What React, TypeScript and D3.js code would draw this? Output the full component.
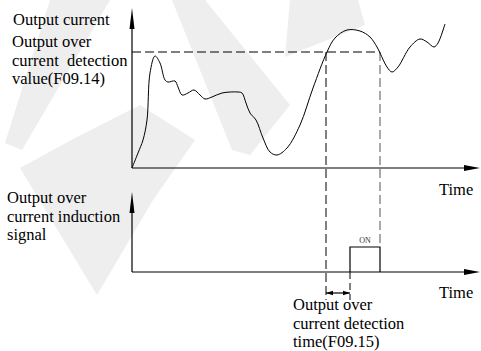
import React from "react";
import * as d3 from "d3";

// ---- data (time units from origin, current units above baseline) ----
const curveTime = [0, 6, 11, 15, 18, 23, 28, 33, 36, 43, 46, 50, 56, 62, 68, 73, 80, 90, 106, 110, 114, 118, 124, 131, 138, 145, 155, 168, 181, 195, 203, 215, 228, 238, 245, 248, 255, 260, 266, 278, 288, 295, 302, 306, 313];
const curveValue = [0, 15, 28, 48, 95, 112, 105, 88, 86, 87, 81, 73, 75, 78, 73, 69, 71, 75, 76, 75, 65, 55, 48, 30, 16, 13, 20, 43, 80, 116, 130, 138, 137, 131, 121, 115, 101, 96, 101, 121, 129, 126, 121, 125, 144];
const thresholdValue = 116;
const detectStart = 194;
const signalOn = 218;
const signalOff = 248;
const signalLevel = 25;

const leftTopLabels = ["Output over", "current  detection", "value(F09.14)"];
const leftBottomLabels = ["Output over", "current induction", "signal"];
const bottomLabels = ["Output over", "current detection", "time(F09.15)"];

export default function App() {
  const W = 481, H = 351;
  const x = d3.scaleLinear().domain([0, 348]).range([132, 480]);
  const yTop = d3.scaleLinear().domain([0, 160]).range([168, 8]);
  const yBot = d3.scaleLinear().domain([0, 80]).range([272, 192]);

  const pts = curveTime.map((t, i) => [t, curveValue[i]] as [number, number]);
  const line = d3
    .line<[number, number]>()
    .x((d) => x(d[0]))
    .y((d) => yTop(d[1]))
    .curve(d3.curveCatmullRom.alpha(0.5));

  const font = "Liberation Serif, Times New Roman, serif";
  const fs = 16.5;
  const dash = "9,4";
  const x0 = x(0);
  const xEnd = x(348);
  const base1 = yTop(0);
  const base2 = yBot(0);
  const thrY = yTop(thresholdValue);
  const xDet = x(detectStart);
  const xOn = x(signalOn);
  const xOff = x(signalOff);
  const yOn = yBot(signalLevel);
  const dimY = 293;

  const wm = "#eeeeee";
  const textStyle: React.CSSProperties = { fontFamily: font, fontSize: fs, whiteSpace: "pre" };

  return (
    <svg width={W} height={H} style={{ position: "absolute", left: 0, top: 0 }}>
      <rect width={W} height={H} fill="#fff" />
      {/* watermark approximation */}
      <g fill={wm}>
        <polygon points="50,0 110,0 22,150 5,143" />
        <polygon points="97,295 20,168 75,138 140,105 195,140 153,200" />
        <polygon points="172,0 205,0 290,105 250,155 232,150" />
        <polygon points="290,0 358,0 365,25 285,57" />
      </g>

      {/* top axes */}
      <line x1={x0} y1={base1} x2={xEnd - 15} y2={base1} stroke="#000" strokeWidth={1.2} />
      <polygon points={`${xEnd},${base1} ${xEnd - 16},${base1 - 3} ${xEnd - 16},${base1 + 3}`} fill="#000" />
      <line x1={x0} y1={base1} x2={x0} y2={26} stroke="#000" strokeWidth={1.2} />
      <polygon points={`${x0},8 ${x0 - 2.5},29 ${x0 + 2.5},29`} fill="#000" />

      {/* threshold dashed */}
      <line x1={x0} y1={thrY} x2={xOff} y2={thrY} stroke="#000" strokeWidth={1} strokeDasharray={dash} />
      <line x1={xDet} y1={thrY} x2={xDet} y2={300} stroke="#000" strokeWidth={1} strokeDasharray={dash} />
      <line x1={xOff} y1={thrY} x2={xOff} y2={yOn} stroke="#555" strokeWidth={1} strokeDasharray={dash} />
      <line x1={xOn} y1={base2} x2={xOn} y2={300} stroke="#000" strokeWidth={1} strokeDasharray="7,4" />

      {/* current curve */}
      <path d={line(pts) || ""} fill="none" stroke="#000" strokeWidth={1} />

      {/* bottom axes */}
      <line x1={x0} y1={base2} x2={xEnd - 15} y2={base2} stroke="#000" strokeWidth={1.2} />
      <polygon points={`${xEnd},${base2} ${xEnd - 16},${base2 - 3} ${xEnd - 16},${base2 + 3}`} fill="#000" />
      <line x1={x0} y1={base2} x2={x0} y2={210} stroke="#000" strokeWidth={1.2} />
      <polygon points={`${x0},192 ${x0 - 2.5},213 ${x0 + 2.5},213`} fill="#000" />

      {/* signal pulse */}
      <polyline points={`${xOn},${base2} ${xOn},${yOn} ${xOff},${yOn} ${xOff},${base2}`} fill="none" stroke="#000" strokeWidth={1.2} />
      <text x={(xOn + xOff) / 2} y={yOn - 4} textAnchor="middle" fill="#333" style={{ fontFamily: font, fontSize: 8 }}>ON</text>

      {/* dimension arrow */}
      <line x1={xDet} y1={dimY} x2={xOn} y2={dimY} stroke="#000" strokeWidth={1.2} />
      <polygon points={`${xDet},${dimY} ${xDet + 7},${dimY - 2.2} ${xDet + 7},${dimY + 2.2}`} fill="#000" />
      <polygon points={`${xOn},${dimY} ${xOn - 7},${dimY - 2.2} ${xOn - 7},${dimY + 2.2}`} fill="#000" />

      {/* texts */}
      <g fill="#000">
        <text x={13} y={25} style={textStyle}>Output current</text>
        {leftTopLabels.map((s, i) => (
          <text key={"lt" + i} x={12} y={47 + i * 18.5} style={textStyle}>{s}</text>
        ))}
        {leftBottomLabels.map((s, i) => (
          <text key={"lb" + i} x={7} y={203 + i * 18.5} style={textStyle}>{s}</text>
        ))}
        {bottomLabels.map((s, i) => (
          <text key={"bl" + i} x={293} y={310 + i * 18.5} style={textStyle}>{s}</text>
        ))}
        <text x={439} y={195} style={textStyle}>Time</text>
        <text x={439} y={298} style={textStyle}>Time</text>
      </g>
    </svg>
  );
}
